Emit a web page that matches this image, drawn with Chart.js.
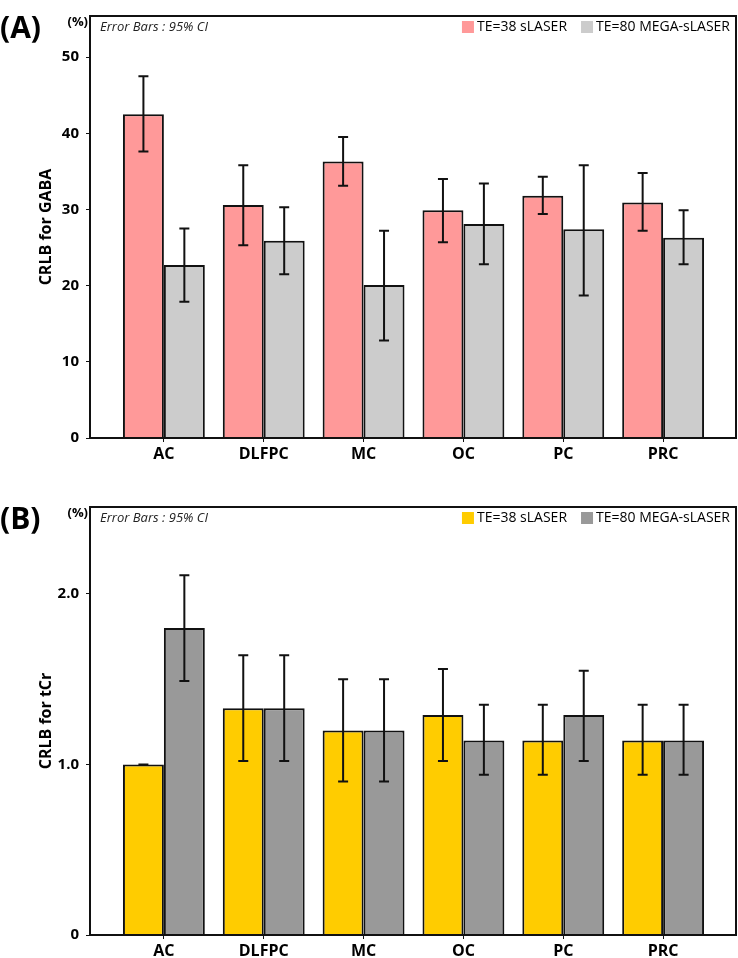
<!DOCTYPE html>
<html>
<head>
<meta charset="utf-8">
<script src="https://cdn.jsdelivr.net/npm/chart.js@4.4.1/dist/chart.umd.min.js"></script>
<style>
body{margin:0;background:#fff;}
#wrapA{position:absolute;left:0;top:0;}
#wrapB{position:absolute;left:0;top:480px;}
</style>
</head>
<body>
<div id="wrapA"><canvas id="chartA" width="738" height="478"></canvas></div>
<div id="wrapB"><canvas id="chartB" width="738" height="478"></canvas></div>
<script>
var regions = ['AC','DLFPC','MC','OC','PC','PRC'];
var seriesNames = ['TE=38 sLASER','TE=80 MEGA-sLASER'];

// panel A - GABA
var gabaTE38 = [42.5, 30.6, 36.3, 29.9, 31.8, 30.9];
var gabaTE38Lo = [37.6, 25.3, 33.1, 25.7, 29.4, 27.2];
var gabaTE38Hi = [47.5, 35.8, 39.5, 34.0, 34.3, 34.8];
var gabaTE80 = [22.7, 25.9, 20.1, 28.1, 27.4, 26.3];
var gabaTE80Lo = [17.9, 21.5, 12.8, 22.8, 18.7, 22.8];
var gabaTE80Hi = [27.5, 30.3, 27.2, 33.4, 35.8, 29.9];
var gabaTicks = [0, 10, 20, 30, 40, 50];

// panel B - tCr
var tcrTE38 = [1.0, 1.33, 1.2, 1.29, 1.14, 1.14];
var tcrTE38Lo = [1.0, 1.02, 0.9, 1.02, 0.94, 0.94];
var tcrTE38Hi = [1.0, 1.64, 1.5, 1.56, 1.35, 1.35];
var tcrTE80 = [1.8, 1.33, 1.2, 1.14, 1.29, 1.14];
var tcrTE80Lo = [1.49, 1.02, 0.9, 0.94, 1.02, 0.94];
var tcrTE80Hi = [2.11, 1.64, 1.5, 1.35, 1.55, 1.35];
var tcrTicks = [0, 1, 2];

function pts(vals){
   var out=[];
   for(var i=0;i<vals.length;i++){
      out.push({x:i,y:vals[i]});
   }
   return out;
}

var extrasPlugin = {
   id:'extras',
   afterDatasetsDraw:function(chart){
      var ctx=chart.ctx;
      var ys=chart.scales.y;
      ctx.save();
      ctx.strokeStyle='#111';
      ctx.lineWidth=2;
      chart.data.datasets.forEach(function(ds,i){
         var meta=chart.getDatasetMeta(i);
         for(var j=0;j<meta.data.length;j++){
            var x=meta.data[j].x;
            var lo=ys.getPixelForValue(ds.errLo[j]);
            var hi=ys.getPixelForValue(ds.errHi[j]);
            ctx.beginPath();
            ctx.moveTo(x,lo);ctx.lineTo(x,hi);
            ctx.moveTo(x-5,lo);ctx.lineTo(x+5,lo);
            ctx.moveTo(x-5,hi);ctx.lineTo(x+5,hi);
            ctx.stroke();
         }
      });
      ctx.restore();
   },
   afterDraw:function(chart,args,opts){
      var ctx=chart.ctx;
      var a=chart.chartArea;
      ctx.save();
      ctx.strokeStyle='#111';
      ctx.lineWidth=2;
      ctx.strokeRect(a.left,a.top,a.right-a.left,a.bottom-a.top);

      ctx.fillStyle='#000';
      ctx.textBaseline='middle';
      ctx.font='bold 30px "Open Sans"';
      ctx.textAlign='left';
      ctx.fillText(opts.panel,0,a.top+13);
      ctx.font='bold 13px "Open Sans"';
      ctx.textAlign='right';
      ctx.fillText('(%)',a.left-2,a.top+6);
      ctx.font='italic 13px "Open Sans"';
      ctx.textAlign='left';
      ctx.fillStyle='#222';
      ctx.fillText('Error Bars : 95% CI',a.left+10,a.top+11);

      // legend, right to left
      ctx.font='14px "Open Sans"';
      var xr=a.right-6;
      var ds=chart.data.datasets;
      for(var i=ds.length-1;i>=0;i--){
         var w=ctx.measureText(ds[i].label).width;
         ctx.fillStyle='#000';
         ctx.textAlign='left';
         ctx.fillText(ds[i].label,xr-w,a.top+11);
         ctx.fillStyle=ds[i].backgroundColor;
         ctx.fillRect(xr-w-15,a.top+5,12,12);
         xr=xr-w-29;
      }
      ctx.restore();
   }
};

function makeChart(id,panel,s1,s1lo,s1hi,s2,s2lo,s2hi,colors,ticks,ymax,title,topPad,xHeight,fmt){
   var config={
      type:'bar',
      data:{
         datasets:[{
            label:seriesNames[0],
            data:pts(s1),
            errLo:s1lo,errHi:s1hi,
            backgroundColor:colors[0],
            borderColor:'#111',
            borderWidth:2
         },{
            label:seriesNames[1],
            data:pts(s2),
            errLo:s2lo,errHi:s2hi,
            backgroundColor:colors[1],
            borderColor:'#111',
            borderWidth:2
         }]
      },
      options:{
         responsive:false,
         animation:false,
         devicePixelRatio:1,
         categoryPercentage:0.82,
         barPercentage:1,
         layout:{padding:{top:topPad,right:2,left:0,bottom:0}},
         plugins:{legend:{display:false},tooltip:{enabled:false},extras:{panel:panel}},
         scales:{
            x:{
               type:'linear',
               offset:false,
               min:-0.74,max:5.73,
               grid:{drawOnChartArea:false,color:'#111',tickLength:4,offset:false},
               border:{color:'#111',width:2},
               afterBuildTicks:function(axis){
                  axis.ticks=regions.map(function(r,i){return {value:i};});
               },
               afterFit:function(axis){axis.height=xHeight;},
               ticks:{
                  color:'#000',padding:3,maxRotation:0,
                  font:{family:'Open Sans',size:16,weight:'bold'},
                  callback:function(v){return regions[v];}
               }
            },
            y:{
               min:0,max:ymax,
               grid:{drawOnChartArea:false,color:'#111',tickLength:4},
               border:{color:'#111',width:2},
               afterBuildTicks:function(axis){
                  axis.ticks=ticks.map(function(t){return {value:t};});
               },
               afterFit:function(axis){axis.width=90;},
               ticks:{
                  color:'#000',padding:7,
                  font:{family:'Open Sans',size:15,weight:'bold'},
                  callback:fmt
               },
               title:{
                  display:true,text:title,color:'#000',
                  padding:{top:37,bottom:0},
                  font:{family:'Open Sans',size:16,weight:'bold'}
               }
            }
         }
      },
      plugins:[extrasPlugin]
   };
   return new Chart(document.getElementById(id),config);
}

var chartA=makeChart('chartA','(A)',gabaTE38,gabaTE38Lo,gabaTE38Hi,gabaTE80,gabaTE80Lo,gabaTE80Hi,
   ['#FF9999','#CCCCCC'],gabaTicks,55.4,'CRLB for GABA',5,40,
   function(v){return v;});
var chartB=makeChart('chartB','(B)',tcrTE38,tcrTE38Lo,tcrTE38Hi,tcrTE80,tcrTE80Lo,tcrTE80Hi,
   ['#FFCC00','#999999'],tcrTicks,2.51,'CRLB for tCr',27,23,
   function(v){return v===0?'0':v.toFixed(1);});
</script>
</body>
</html>
